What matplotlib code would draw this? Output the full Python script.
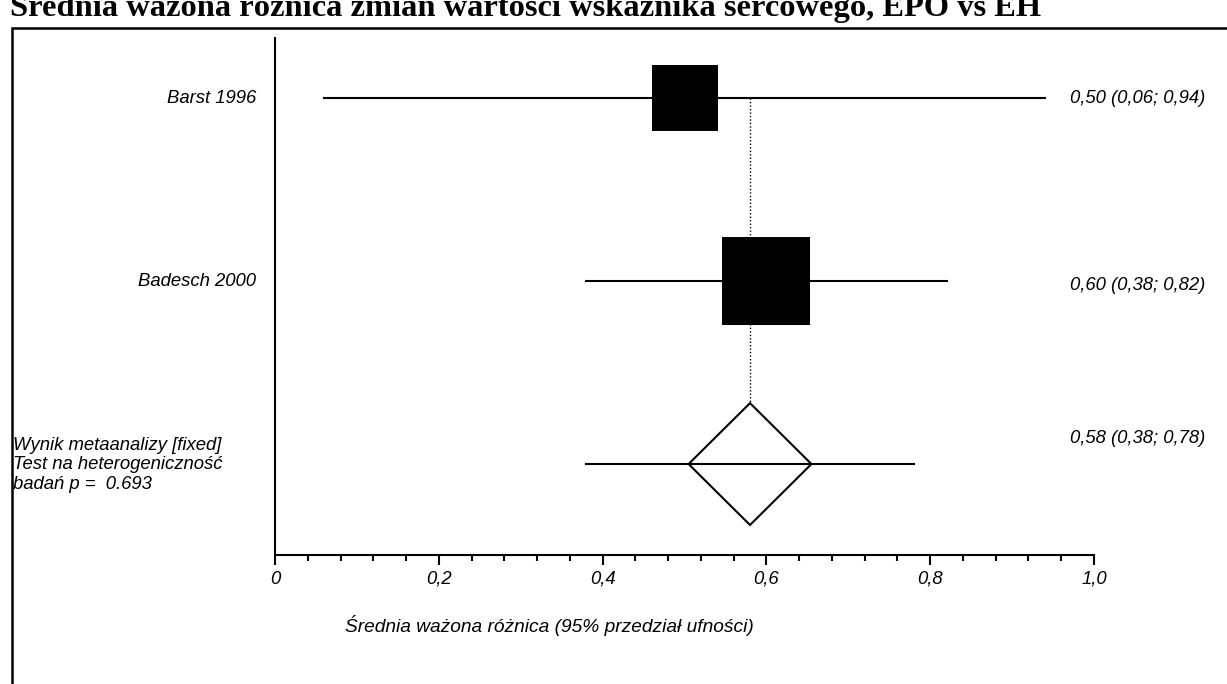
import matplotlib
matplotlib.use("Agg")
import matplotlib.pyplot as plt
import matplotlib.transforms as mtransforms
from matplotlib.patches import Polygon, Rectangle
import numpy as np

# data
studies = ["Barst 1996", "Badesch 2000"]
estimates = [0.50, 0.60]
ci_low = [0.06, 0.38]
ci_high = [0.94, 0.82]
pooled_label = "Wynik metaanalizy [fixed]\nTest na heterogeniczność\nbadań p =  0.693"
pooled_est = 0.58
pooled_low = 0.38
pooled_high = 0.78

title = "Średnia ważona różnica zmian wartości wskaźnika sercowego, EPO vs EH"
xlabel = "Średnia ważona różnica (95% przedział ufności)"
major_ticks = [0.0, 0.2, 0.4, 0.6, 0.8, 1.0]
major_labels = ["0", "0,2", "0,4", "0,6", "0,8", "1,0"]


def fmt(v):
    return f"{v:.2f}".replace(".", ",")


W, H = 1227, 684
fig = plt.figure(figsize=(W / 100, H / 100), dpi=100)
ax = fig.add_axes([275 / W, (H - 555) / H, 819 / W, 517 / H])

rows = [3, 2]
pooled_row = 1
box_sizes = [47.5, 64]  # points
lw = 1.5
fs = 13.3

for y, e, lo, hi, bs in zip(rows, estimates, ci_low, ci_high, box_sizes):
    ax.plot([lo, hi], [y, y], color="black", lw=lw, zorder=2)
    ax.plot(e, y, marker="s", markersize=bs, color="black", mew=0, zorder=3)

# pooled
dw, dh = 0.075, 0.333
ax.plot([pooled_low, pooled_high], [pooled_row, pooled_row], color="black", lw=lw, zorder=2)
diamond = Polygon([[pooled_est - dw, pooled_row], [pooled_est, pooled_row + dh],
                   [pooled_est + dw, pooled_row], [pooled_est, pooled_row - dh]],
                  closed=True, facecolor="none", edgecolor="black", lw=lw, zorder=3)
ax.add_patch(diamond)
ax.plot([pooled_est, pooled_est], [rows[0], pooled_row + dh], color="black",
        lw=1.0, ls=(0, (1, 1.5)), zorder=1)

ax.set_xlim(0, 1)
ax.set_ylim(0.503, 3.328)
for s in ["top", "right"]:
    ax.spines[s].set_visible(False)
ax.spines["left"].set_linewidth(lw)
ax.spines["bottom"].set_linewidth(lw)
ax.set_yticks([])
ax.set_xticks(major_ticks)
ax.set_xticklabels(major_labels, fontstyle="italic", fontsize=fs, family="Liberation Sans")
ax.set_xticks(np.arange(0, 1.0001, 0.04), minor=True)
ax.tick_params(axis="x", which="major", length=7.2, width=lw, pad=4, direction="out")
ax.tick_params(axis="x", which="minor", length=4.3, width=lw, direction="out")
ax.patch.set_alpha(0)

# texts
tleft = mtransforms.blended_transform_factory(fig.transFigure, ax.transData)
txt = dict(fontstyle="italic", fontsize=fs, family="Liberation Sans", va="center")
right_offsets = [-0.005, -0.027]
for y, name, e, lo, hi, off in zip(rows, studies, estimates, ci_low, ci_high, right_offsets):
    fig.text(256 / W, y, name, transform=tleft, ha="right", **txt)
    fig.text(1070 / W, y + off, f"{fmt(e)} ({fmt(lo)}; {fmt(hi)})", transform=tleft,
             ha="left", **txt)
fig.text(1070 / W, pooled_row + 0.142,
         f"{fmt(pooled_est)} ({fmt(pooled_low)}; {fmt(pooled_high)})",
         transform=tleft, ha="left", **txt)
fig.text(13 / W, pooled_row - 0.005, pooled_label, transform=tleft, ha="left",
         linespacing=1.18, **txt)

fig.text(549 / W, 1 - 625 / H, xlabel, ha="center", va="center",
         fontstyle="italic", fontsize=13.8, family="Liberation Sans")

# frame and cropped title
fig.patches.append(Rectangle((12 / W, -0.1), 1.2, 1 - 28 / H + 0.1, transform=fig.transFigure,
                             fill=False, edgecolor="black", lw=1.8, clip_on=False))
fig.text(10 / W, 1 - 16 / H, title, ha="left", va="baseline", fontsize=23.4,
         fontweight="bold", family="Liberation Serif")

fig.savefig("out.png", dpi=100)
